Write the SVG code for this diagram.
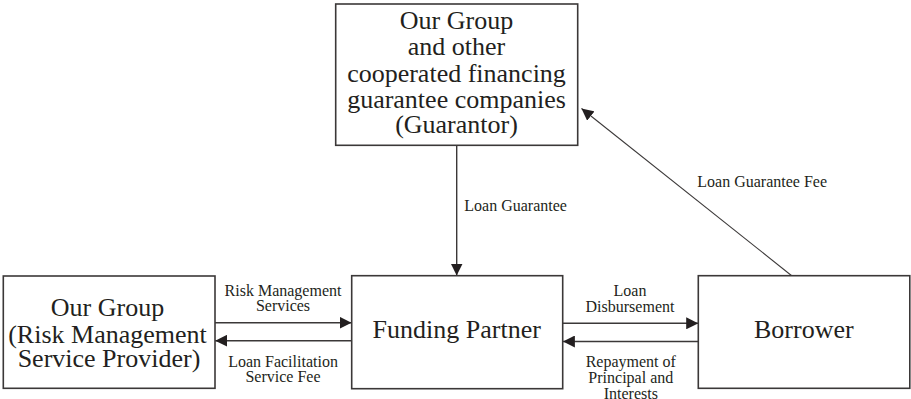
<svg xmlns="http://www.w3.org/2000/svg" width="911" height="399" viewBox="0 0 911 399">
  <style>
    .box { fill: #ffffff; stroke: #3b3838; stroke-width: 1.6; }
    .big { font-family: "Liberation Serif", "Times New Roman", serif; font-size: 26px; fill: #231f20; text-anchor: middle; }
    .lbl { font-family: "Liberation Serif", "Times New Roman", serif; font-size: 16px; fill: #231f20; text-anchor: middle; }
    .lbl-l { font-family: "Liberation Serif", "Times New Roman", serif; font-size: 16px; fill: #231f20; text-anchor: start; }
    .conn { stroke: #3b3838; stroke-width: 1.4; fill: none; marker-end: url(#arrow); }
    .thin { stroke-width: 1.1; }
  </style>
  <defs>
    <marker id="arrow" markerUnits="userSpaceOnUse" markerWidth="12" markerHeight="12" viewBox="0 0 12 12" refX="12" refY="6" orient="auto">
      <path d="M0,0 L12,6 L0,12 Z" fill="#231f20"/>
    </marker>
  </defs>

  <rect width="911" height="399" fill="#ffffff"/>

  <!-- connectors -->
  <g id="connectors">
    <line class="conn" x1="456.7" y1="145" x2="456.7" y2="275.5"/>
    <line class="conn thin" x1="791.7" y1="275.7" x2="581.5" y2="108.5"/>
    <line class="conn" x1="215" y1="322.7" x2="351.5" y2="322.7"/>
    <line class="conn" x1="351.7" y1="340.7" x2="215.2" y2="340.7"/>
    <line class="conn" x1="562.7" y1="323.3" x2="698.2" y2="323.3"/>
    <line class="conn" x1="698.3" y1="341.5" x2="562.9" y2="341.5"/>
  </g>

  <!-- connector labels -->
  <g id="labels">
    <text class="lbl-l" x="464.3" y="210.7">Loan Guarantee</text>
    <text class="lbl-l" x="697.3" y="187.3">Loan Guarantee Fee</text>
    <text class="lbl" x="283" y="296">Risk Management</text>
    <text class="lbl" x="283" y="310.7">Services</text>
    <text class="lbl" x="283" y="366.7">Loan Facilitation</text>
    <text class="lbl" x="283" y="381.7">Service Fee</text>
    <text class="lbl" x="630" y="296">Loan</text>
    <text class="lbl" x="630" y="311.7">Disbursement</text>
    <text class="lbl" x="630.8" y="367.3">Repayment of</text>
    <text class="lbl" x="630.8" y="383.3">Principal and</text>
    <text class="lbl" x="630.8" y="399">Interests</text>
  </g>

  <!-- nodes -->
  <g id="guarantor">
    <rect class="box" x="335.7" y="4" width="242" height="141.3"/>
    <text class="big" x="456.5" y="28.5">Our Group</text>
    <text class="big" x="456.5" y="55">and other</text>
    <text class="big" x="456.5" y="81.7">cooperated financing</text>
    <text class="big" x="456.5" y="108.3">guarantee companies</text>
    <text class="big" x="456.5" y="133">(Guarantor)</text>
  </g>

  <g id="risk-provider">
    <rect class="box" x="3.3" y="276" width="211.7" height="112.3"/>
    <text class="big" x="107.5" y="316">Our Group</text>
    <text class="big" x="107.5" y="342.7">(Risk Management</text>
    <text class="big" x="109" y="366.7">Service Provider)</text>
  </g>

  <g id="funding-partner">
    <rect class="box" x="351.7" y="275.7" width="211" height="113"/>
    <text class="big" x="456.7" y="338.3">Funding Partner</text>
  </g>

  <g id="borrower">
    <rect class="box" x="698.3" y="275.7" width="211.5" height="112.6"/>
    <text class="big" x="803.8" y="337.7">Borrower</text>
  </g>
</svg>
